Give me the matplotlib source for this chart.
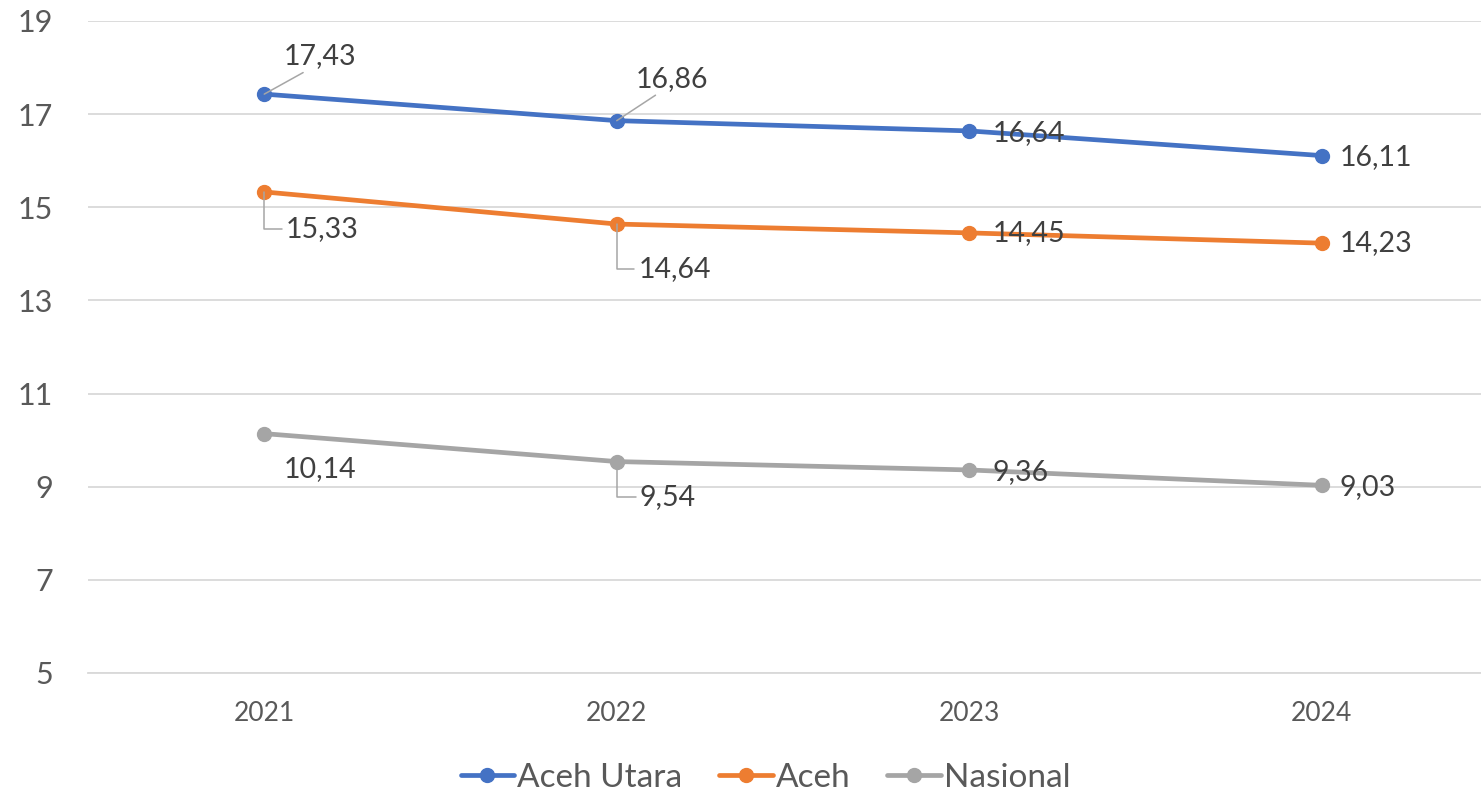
import matplotlib
matplotlib.use("Agg")
from matplotlib import pyplot as plt

# data
tahun = ["2021", "2022", "2023", "2024"]
aceh_utara = [17.43, 16.86, 16.64, 16.11]
aceh = [15.33, 14.64, 14.45, 14.23]
nasional = [10.14, 9.54, 9.36, 9.03]
y_ticks = [5, 7, 9, 11, 13, 15, 17, 19]

plt.rcParams['font.family'] = ['Lato', 'DejaVu Sans']

fig = plt.figure(figsize=(14.81, 7.97), dpi=100)
ax = fig.add_axes([88/1481, 1 - 673/797, (1498 - 88)/1481, (673 - 21)/797])

x = list(range(len(tahun)))
series = [
    ("Aceh Utara", aceh_utara, "#4472C4"),
    ("Aceh", aceh, "#ED7D31"),
    ("Nasional", nasional, "#A5A5A5"),
]
for nama, vals, warna in series:
    ax.plot(x, vals, color=warna, lw=3.4, marker="o", ms=10, label=nama,
            solid_capstyle="round", zorder=3)

def fmt(v):
    return ("%.2f" % v).replace(".", ",")

lead = dict(arrowstyle="-", color="#A6A6A6", lw=1.1, shrinkA=1, shrinkB=0)

# label offsets (pixels) per series / point
offs = {
    "Aceh Utara": [(56, 38, "c", "line"), (55, 42, "c", "line"), (23, -2, "l", None), (18, -1, "l", None)],
    "Aceh": [(58, -37, "c", "elbow"), (58, -45, "c", "elbow"), (23, 0, "l", None), (18, 0, "l", None)],
    "Nasional": [(56, -35, "c", None), (51, -35, "c", "elbow"), (23, -2, "l", None), (18, -2, "l", None)],
}
for nama, vals, warna in series:
    for i, v in enumerate(vals):
        dx, dy, ha, kind = offs[nama][i]
        kw = {}
        if kind == "line":
            kw["arrowprops"] = dict(lead, relpos=(0.35, 0.0))
        elif kind == "elbow":
            kw["arrowprops"] = dict(lead, relpos=(0.0, 0.5),
                                    connectionstyle="angle,angleA=0,angleB=90,rad=0")
        ax.annotate(fmt(v), xy=(i, v), xytext=(dx, dy), textcoords="offset pixels",
                    ha="center" if ha == "c" else "left", va="center",
                    fontsize=20.5, color="#404040", zorder=4, **kw)

ax.set_xlim(-0.5, 3.5)
ax.set_ylim(5, 19)
ax.set_yticks(y_ticks)
ax.set_xticks(x)
ax.set_xticklabels(tahun)
ax.tick_params(axis="y", length=0, pad=25, labelsize=22, labelcolor="#595959")
ax.tick_params(axis="x", length=0, pad=20, labelsize=19, labelcolor="#595959")
ax.grid(axis="y", color="#D9D9D9", lw=1.3)
ax.set_axisbelow(True)
for s in ["top", "right", "left"]:
    ax.spines[s].set_visible(False)
ax.spines["bottom"].set_color("#D9D9D9")
ax.spines["bottom"].set_linewidth(1.3)

leg = fig.legend(loc="center", bbox_to_anchor=(0.517, 1 - 778/797), ncol=3,
                 frameon=False, fontsize=24, handlelength=1.6, handletextpad=0.1,
                 columnspacing=1.1)
for t in leg.get_texts():
    t.set_color("#595959")

fig.savefig("out.png", dpi=100)
